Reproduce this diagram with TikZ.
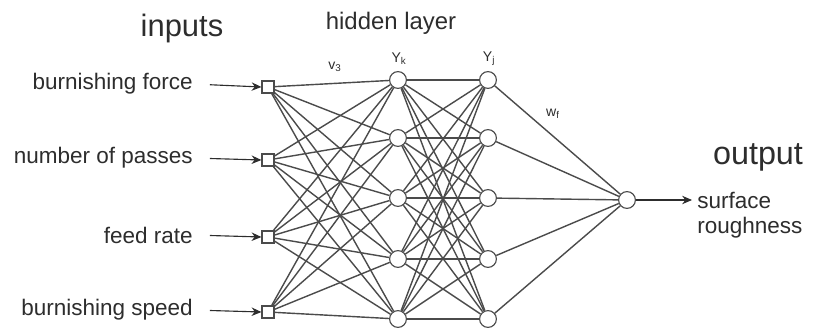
\documentclass[tikz,border=0pt]{standalone}
\usepackage{fontspec}
\setmainfont{Liberation Sans}
\usepackage{tikz}
\usetikzlibrary{arrows.meta, positioning}
\definecolor{cinzaTexto}{RGB}{45,45,45}
\definecolor{cinzaLinha}{RGB}{75,75,75}

\begin{document}
\begin{tikzpicture}[x=0.025cm, y=-0.025cm,
    inbox/.style={draw=cinzaLinha, fill=white, thick, minimum size=0.3cm, inner sep=0pt},
    neuron/.style={draw=cinzaLinha, fill=white, thick, circle, minimum size=0.42cm, inner sep=0pt},
    label/.style={text=cinzaTexto, font=\fontsize{16}{18}\selectfont, inner sep=0pt},
    title/.style={text=cinzaTexto, inner sep=0pt},
    wlabel/.style={text=cinzaTexto, font=\fontsize{10}{11}\selectfont, inner sep=0pt},
    link/.style={draw=cinzaLinha, line width=1pt},
    arrow/.style={thick, -{Stealth[length=7pt, width=6pt]}, draw=cinzaTexto}
]
    \useasboundingbox (0,0) rectangle (814,329);

    % titles
    \node[title, font=\fontsize{22}{24}\selectfont] (tIn) at (182,29) {inputs};
    \node[title, font=\fontsize{17}{19}\selectfont] (tHid) at (391,23) {hidden layer};
    \node[title, font=\fontsize{23}{25}\selectfont] (tOut) at (758,157) {output};

    % input labels
    \node[label, anchor=east] (l1) at (193,84) {burnishing force};
    \node[label, anchor=east] (l2) at (193,158) {number of passes};
    \node[label, anchor=east] (l3) at (193,235) {feed rate};
    \node[label, anchor=east] (l4) at (193,310) {burnishing speed};

    % input squares
    \node[inbox] (i1) at (268,87) {};
    \node[inbox] (i2) at (268,160) {};
    \node[inbox] (i3) at (268,237) {};
    \node[inbox] (i4) at (268,312) {};

    % hidden layers
    \foreach \k/\yy in {1/80, 2/138, 3/198, 4/259, 5/319} {
        \node[neuron] (a\k) at (398,\yy) {};
        \node[neuron] (b\k) at (488,\yy) {};
    }

    % output neuron
    \node[neuron] (o) at (627,200) {};
    \coordinate (oEnd) at (692,200);
    \node[label, anchor=west, align=left] (lOut) at (697,215) {surface\\roughness};

    % weights
    \node[wlabel] (wv) at (335,67) {v\textsubscript{3}};
    \node[wlabel] (wy1) at (399,59) {Y\textsubscript{k}};
    \node[wlabel] (wy2) at (489,59) {Y\textsubscript{j}};
    \node[wlabel] (ww) at (553,114) {w\textsubscript{f}};

    % connections
    \foreach \i in {1,...,4}
        \foreach \k in {1,...,5}
            \draw[link] (i\i) -- (a\k);
    \foreach \k in {1,...,5}
        \foreach \j in {1,...,5}
            \draw[link] (a\k) -- (b\j);
    \foreach \j in {1,...,5}
        \draw[link] (b\j) -- (o);

    \foreach \i in {1,...,4}
        \draw[arrow, shorten <=12pt] (l\i.east) -- (i\i.west);
    \draw[arrow] (o) -- (oEnd);
\end{tikzpicture}
\end{document}
